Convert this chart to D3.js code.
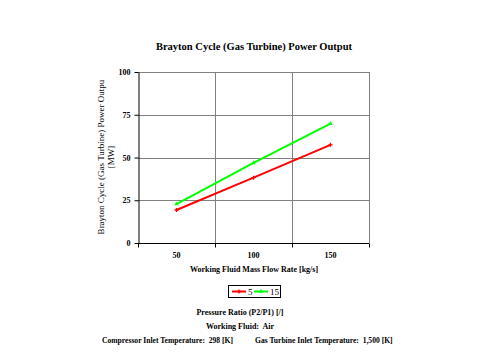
<!DOCTYPE html>
<html>
<head>
<meta charset="utf-8">
<script src="https://cdn.jsdelivr.net/npm/d3@7"></script>
<style>
body { margin: 0; background: #fff; }
text { font-family: "Liberation Serif", "Times New Roman", serif; }
</style>
</head>
<body>
<script>
var flowRates = ["50", "100", "150"];
var seriesNames = ["5", "15"];
var power5 = [19.3, 38.2, 57.4];
var power15 = [22.8, 46.8, 69.8];
var yTicks = [0, 25, 50, 75, 100];
var colors = ["#ff0000", "#00ff00"];

var width = 480, height = 360;
var plotL = 138, plotR = 369, plotT = 72, plotB = 243;

var svg = d3.select("body").append("svg")
  .attr("width", width)
  .attr("height", height);

var x = d3.scaleBand().domain(flowRates).range([plotL, plotR]);
var y = d3.scaleLinear().domain([0, 100]).range([plotB, plotT]);

// grid
svg.append("g").selectAll("line")
  .data(yTicks.slice(1))
  .enter().append("line")
  .attr("x1", plotL).attr("x2", plotR)
  .attr("y1", function(d) { return Math.round(y(d)) + 0.5; })
  .attr("y2", function(d) { return Math.round(y(d)) + 0.5; })
  .attr("stroke", "#808080");

var vlines = [x("100"), x("150"), plotR];
svg.append("g").selectAll("line")
  .data(vlines)
  .enter().append("line")
  .attr("x1", function(d) { return Math.round(d) + 0.5; })
  .attr("x2", function(d) { return Math.round(d) + 0.5; })
  .attr("y1", plotT).attr("y2", plotB)
  .attr("stroke", "#808080");

// axes
var yAxis = d3.axisLeft(y).tickValues(yTicks).tickSize(4).tickSizeOuter(0);
var ya = svg.append("g").attr("transform", "translate(" + (plotL + 0.5) + ",0)").call(yAxis);
ya.selectAll("text").attr("font-size", 8).attr("font-weight", "bold")
  .attr("font-family", "Liberation Serif").attr("dx", -1);
ya.select(".domain").attr("stroke", "#000");
ya.selectAll(".tick line").attr("stroke", "#000");

var xa = svg.append("g").attr("transform", "translate(0," + (plotB + 0.5) + ")");
xa.append("line").attr("x1", plotL).attr("x2", plotR).attr("stroke", "#000");
xa.selectAll("line.t")
  .data([x("50"), x("100"), x("150"), plotR])
  .enter().append("line")
  .attr("class", "t")
  .attr("x1", function(d) { return Math.round(d) + 0.5; })
  .attr("x2", function(d) { return Math.round(d) + 0.5; })
  .attr("y1", 0).attr("y2", 4)
  .attr("stroke", "#000");
xa.selectAll("text")
  .data(flowRates)
  .enter().append("text")
  .attr("x", function(d) { return x(d) + x.bandwidth() / 2; })
  .attr("y", 14)
  .attr("text-anchor", "middle")
  .attr("font-size", 8).attr("font-weight", "bold")
  .text(function(d) { return d; });

// lines
var line = d3.line()
  .x(function(d, i) { return x(flowRates[i]) + x.bandwidth() / 2; })
  .y(function(d) { return y(d); });

[power5, power15].forEach(function(s, k) {
  svg.append("path")
    .datum(s)
    .attr("d", line)
    .attr("fill", "none")
    .attr("stroke", colors[k])
    .attr("stroke-width", 2);
  svg.append("g").selectAll("path")
    .data(s)
    .enter().append("path")
    .attr("transform", function(d, i) {
      return "translate(" + (x(flowRates[i]) + x.bandwidth() / 2) + "," + y(d) + ")";
    })
    .attr("d", d3.symbol().type(k === 0 ? d3.symbolCross : d3.symbolTriangle).size(9)())
    .attr("fill", colors[k]);
});

// titles
svg.append("text")
  .attr("x", 254).attr("y", 50)
  .attr("text-anchor", "middle")
  .attr("font-size", 10.5).attr("font-weight", "bold")
  .text("Brayton Cycle (Gas Turbine) Power Output");

var yt = svg.append("text")
  .attr("transform", "translate(104,157) rotate(-90)")
  .attr("text-anchor", "middle")
  .attr("font-size", 9);
yt.append("tspan").attr("x", 0).attr("dy", 0).text("Brayton Cycle (Gas Turbine) Power Outpu");
yt.append("tspan").attr("x", 0).attr("dy", 10).text("[MW]");

svg.append("text")
  .attr("x", 254).attr("y", 272)
  .attr("text-anchor", "middle")
  .attr("font-size", 8).attr("font-weight", "bold")
  .text("Working Fluid Mass Flow Rate [kg/s]");

// legend
var lg = svg.append("g");
lg.append("rect")
  .attr("x", 228.5).attr("y", 285.5).attr("width", 52).attr("height", 12)
  .attr("fill", "#fff").attr("stroke", "#000");
var lx = [232, 254];
seriesNames.forEach(function(n, k) {
  lg.append("line")
    .attr("x1", lx[k]).attr("x2", lx[k] + 14)
    .attr("y1", 291.5).attr("y2", 291.5)
    .attr("stroke", colors[k]).attr("stroke-width", 2);
  lg.append("path")
    .attr("transform", "translate(" + (lx[k] + 7) + ",291.5)")
    .attr("d", d3.symbol().type(k === 0 ? d3.symbolCross : d3.symbolTriangle).size(9)())
    .attr("fill", colors[k]);
  lg.append("text")
    .attr("x", lx[k] + 16).attr("y", 295)
    .attr("font-size", 9)
    .text(n);
});

svg.append("text")
  .attr("x", 240).attr("y", 315)
  .attr("text-anchor", "middle")
  .attr("font-size", 8).attr("font-weight", "bold")
  .text("Pressure Ratio (P2/P1) [/]");

svg.append("text")
  .attr("x", 240).attr("y", 329)
  .attr("text-anchor", "middle")
  .attr("font-size", 8).attr("font-weight", "bold")
  .attr("xml:space", "preserve")
  .text("Working Fluid:  Air");

svg.append("text")
  .attr("x", 102).attr("y", 343)
  .attr("font-size", 7.6).attr("font-weight", "bold")
  .attr("xml:space", "preserve")
  .text("Compressor Inlet Temperature:  298 [K]");

svg.append("text")
  .attr("x", 255).attr("y", 343)
  .attr("font-size", 7.6).attr("font-weight", "bold")
  .attr("xml:space", "preserve")
  .text("Gas Turbine Inlet Temperature:  1,500 [K]");
</script>
</body>
</html>
